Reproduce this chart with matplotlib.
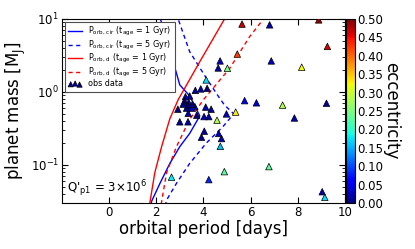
import numpy as np
import matplotlib
matplotlib.use("Agg")
import matplotlib.pyplot as plt

# observed planets: orbital period [days], mass [M_J], eccentricity
obs_period = [3.66, 3.89, 4.16, 3.42, 3.24, 3.21, 3.38, 3.35, 3.64, 2.92,
              3.29, 3.50, 3.36, 3.72, 3.00, 3.35, 4.03, 4.23, 3.14, 3.54,
              4.10, 4.33, 4.98, 4.04, 3.92, 4.65, 4.77, 9.04, 6.81, 4.71,
              4.63, 6.88, 6.25, 9.22, 7.86, 5.75, 4.23, 4.12, 4.72, 9.15,
              2.65, 4.89, 6.78, 5.02, 7.36, 4.58, 8.17, 5.37, 5.44, 9.26,
              5.64, 8.89]
obs_mass = [1.05, 1.10, 1.12, 0.88, 0.86, 0.75, 0.72, 0.65, 0.63, 0.58,
            0.60, 0.60, 0.51, 0.48, 0.39, 0.39, 0.46, 0.46, 0.68, 0.68,
            0.62, 0.58, 0.50, 0.29, 0.24, 0.27, 0.23, 0.043, 8.3, 2.66,
            2.13, 2.66, 0.71, 0.70, 0.44, 0.76, 0.063, 1.46, 0.18, 0.036,
            0.068, 0.081, 0.095, 2.11, 0.66, 0.41, 2.18, 0.53, 3.3, 4.2,
            8.5, 9.7]
obs_ecc = [0.01, 0.02, 0.0, 0.01, 0.02, 0.0, 0.03, 0.01, 0.02, 0.0,
           0.01, 0.03, 0.02, 0.0, 0.01, 0.02, 0.03, 0.02, 0.01, 0.0,
           0.02, 0.01, 0.03, 0.02, 0.01, 0.03, 0.02, 0.02, 0.02, 0.03,
           0.02, 0.03, 0.04, 0.01, 0.02, 0.06, 0.08, 0.17, 0.16, 0.17,
           0.18, 0.23, 0.23, 0.25, 0.28, 0.28, 0.32, 0.33, 0.42, 0.46,
           0.47, 0.49]

# circularisation curves (period, mass)
cir1_period = [2.10, 2.18, 2.72, 3.00, 3.42, 3.85, 3.42, 3.00, 2.58, 2.16, 1.81, 1.78]
cir1_mass = [12.0, 10.0, 2.6, 1.25, 0.88, 0.47, 0.27, 0.178, 0.105, 0.056, 0.032, 0.029]
cir5_period = [2.85, 2.93, 3.42, 4.13, 4.69, 4.90, 5.29, 4.83, 4.13, 3.42, 2.86, 2.44, 2.40]
cir5_mass = [12.0, 10.0, 3.56, 1.54, 0.82, 0.66, 0.50, 0.335, 0.20, 0.105, 0.056, 0.033, 0.029]

# disruption curves (period, mass)
d1_period = [1.71, 1.73, 1.94, 2.23, 2.58, 2.93, 3.85, 4.90, 5.05]
d1_mass = [0.029, 0.030, 0.078, 0.178, 0.43, 0.78, 2.6, 10.0, 12.0]
d5_period = [2.20, 2.22, 2.44, 2.86, 3.42, 4.00, 5.12, 5.96, 6.55, 6.75]
d5_mass = [0.029, 0.030, 0.078, 0.178, 0.42, 0.78, 2.11, 5.7, 10.0, 12.0]

plt.rcParams['font.family'] = ['DejaVu Sans']
plt.rcParams['mathtext.fontset'] = 'dejavusans'
plt.rcParams['xtick.direction'] = 'in'
plt.rcParams['ytick.direction'] = 'in'
plt.rcParams['xtick.top'] = True
plt.rcParams['ytick.right'] = True

fig = plt.figure(figsize=(4.15, 2.49), dpi=100)
ax = fig.add_axes([0.149, 0.185, 0.682, 0.739])
cax = fig.add_axes([0.834, 0.185, 0.021, 0.739])

dash = (3, 2.5)
ax.plot(cir1_period, cir1_mass, 'b-', lw=1,
        label=r'P$_{\rm orb,\,cir}$ (t$_{\rm age}$ = 1 Gyr)')
ax.plot(cir5_period, cir5_mass, 'b--', lw=1, dashes=dash,
        label=r'P$_{\rm orb,\,cir}$ (t$_{\rm age}$ = 5 Gyr)')
ax.plot(d1_period, d1_mass, 'r-', lw=1,
        label=r'P$_{\rm orb,\,d}$ (t$_{\rm age}$ = 1 Gyr)')
ax.plot(d5_period, d5_mass, 'r--', lw=1, dashes=dash,
        label=r'P$_{\rm orb,\,d}$ (t$_{\rm age}$ = 5 Gyr)')
sc = ax.scatter(obs_period, obs_mass, c=obs_ecc, cmap='jet', vmin=0, vmax=0.5,
                marker='^', s=22, edgecolors='k', linewidths=0.5,
                label='obs data', zorder=3)

ax.set_yscale('log')
ax.set_xlim(-2, 10)
ax.set_ylim(10**-1.52, 10)
ax.set_xticks([0, 2, 4, 6, 8, 10])
ax.tick_params(which='major', length=4, labelsize=8.5, pad=2)
ax.tick_params(which='minor', length=2)
ax.set_xlabel('orbital period [days]', fontsize=12, labelpad=1)
ax.set_ylabel(r'planet mass [M$_{\rm J}$]', fontsize=12, labelpad=2)

ax.text(0.02, 0.075, r"Q$'_{\rm p1}$ = 3$\times$10$^6$", transform=ax.transAxes,
        fontsize=8.5, va='center', ha='left')

leg = ax.legend(loc='upper left', fontsize=5.8, scatterpoints=3, fancybox=False,
                borderaxespad=0.35, borderpad=0.45, handlelength=1.7,
                handletextpad=0.8, labelspacing=0.05, markerscale=0.8,
                framealpha=1)
leg.get_frame().set_edgecolor('0.3')
leg.get_frame().set_linewidth(0.8)

cb = fig.colorbar(sc, cax=cax, ticks=np.arange(0, 0.51, 0.05), format='%.2f')
cb.ax.tick_params(labelsize=8.5, length=0, pad=2)
cb.set_label('eccentricity', rotation=270, fontsize=12, labelpad=12)

fig.savefig('out.png', dpi=100)
